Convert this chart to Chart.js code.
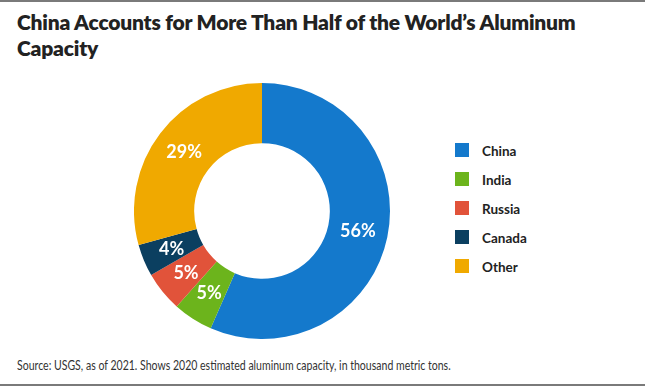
<!DOCTYPE html>
<html>
<head>
<meta charset="utf-8">
<script src="https://cdn.jsdelivr.net/npm/chart.js@4"></script>
<style>
    body { margin: 0; background: #fff; font-family: Lato, sans-serif; }
    #quadro { position: relative; width: 645px; height: 388px; overflow: hidden; }
    .linha { position: absolute; left: 0; width: 645px; height: 2px; background: #7a7a7a; }
    #titulo { position: absolute; left: 17px; top: 9px; font-size: 21px; font-weight: 800; line-height: 26px; color: #222; letter-spacing: -0.2px; }
    #area { position: absolute; left: 134px; top: 83px; width: 256px; height: 256px; }
    #legenda { position: absolute; left: 455px; top: 143px; }
    .item { height: 29px; display: flex; align-items: flex-start; font-size: 13.5px; font-weight: 700; color: #222; }
    .caixa { width: 14px; height: 14px; margin-right: 13px; }
    #fonte { position: absolute; left: 17px; top: 357px; font-size: 13.5px; color: #333; white-space: nowrap; transform: scaleX(0.78); transform-origin: left top; }
</style>
</head>
<body>
<div id="quadro">
    <div class="linha" style="top:0"></div>
    <div id="titulo">China Accounts for More Than Half of the World’s Aluminum<br>Capacity</div>
    <div id="area"><canvas id="grafico-rosca" width="256" height="256"></canvas></div>
    <div id="legenda"></div>
    <div id="fonte">Source: USGS, as of 2021. Shows 2020 estimated aluminum capacity, in thousand metric tons.</div>
    <div class="linha" style="top:384px"></div>
</div>
<script>
// Dados do gráfico
const paises = ['China', 'India', 'Russia', 'Canada', 'Other'];
const percentuais = [56, 5, 5, 4, 29];
const cores = ['#1479cc', '#6cb41c', '#e1533a', '#0b3f60', '#f0a900'];

window.addEventListener("load", () => {
    montarLegenda();
    gerarGraficoRosca();
});

function montarLegenda() {
    const legenda = document.getElementById('legenda');
    paises.forEach((p, i) => {
        legenda.innerHTML += "<div class='item'><div class='caixa' style='background:" + cores[i] + "'></div>" + p + "</div>";
    });
}

// plugin simples pra escrever os percentuais dentro das fatias
const rotulos = {
    id: 'rotulos',
    afterDatasetsDraw(chart) {
        const ctx = chart.ctx;
        const meta = chart.getDatasetMeta(0);
        ctx.save();
        ctx.fillStyle = '#fff';
        ctx.font = '700 18px Lato, sans-serif';
        ctx.textAlign = 'center';
        ctx.textBaseline = 'middle';
        meta.data.forEach((arco, i) => {
            const pos = arco.tooltipPosition();
            ctx.fillText(percentuais[i] + '%', pos.x, pos.y);
        });
        ctx.restore();
    }
};

function gerarGraficoRosca() {
    const rosca = document.getElementById('grafico-rosca');
    new Chart(rosca, {
        type: 'doughnut',
        data: {
            labels: paises,
            datasets: [{
                data: percentuais,
                backgroundColor: cores,
                borderWidth: 0
            }]
        },
        options: {
            responsive: false,
            animation: false,
            cutout: '53%',
            plugins: {
                legend: { display: false },
                tooltip: { enabled: false }
            }
        },
        plugins: [rotulos]
    });
}
</script>
</body>
</html>
